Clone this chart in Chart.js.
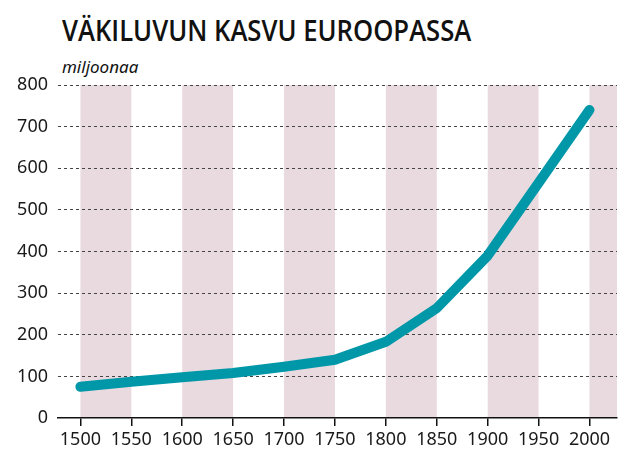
<!DOCTYPE html>
<html>
<head>
<meta charset="utf-8">
<script src="https://cdn.jsdelivr.net/npm/chart.js@4"></script>
<style>
  html, body { margin: 0; padding: 0; background: #fff; }
  #wrap { position: relative; width: 633px; height: 469px; }
  #title {
    position: absolute; left: 62px; top: 10px; white-space: nowrap;
    font-family: 'Open Sans', sans-serif;
    font-weight: 600; font-size: 29px; color: #111;
    transform: scaleX(0.885); transform-origin: left top;
  }
  #unit {
    position: absolute; left: 62px; top: 55px;
    font-family: 'Noto Sans', sans-serif; font-style: italic;
    font-size: 17px; color: #111;
  }
  canvas { position: absolute; left: 0; top: 0; }
</style>
</head>
<body>
<div id="wrap">
  <div id="title">VÄKILUVUN KASVU EUROOPASSA</div>
  <div id="unit">miljoonaa</div>
  <canvas id="chart" width="633" height="469"></canvas>
</div>
<script>
// population of Europe, millions
const years = [1500, 1550, 1600, 1650, 1700, 1750, 1800, 1850, 1900, 1950, 2000];
const population = [75, 87, 98, 108, 123, 140, 183, 264, 390, 565, 740];
const xTicks = [1500, 1550, 1600, 1650, 1700, 1750, 1800, 1850, 1900, 1950, 2000];
const yTicks = [0, 100, 200, 300, 400, 500, 600, 700, 800];
// shaded periods (start year of each 50-year band)
const bandStarts = [1500, 1600, 1700, 1800, 1900, 2000];
const bandLength = 50;

// bands go under the grid lines
const bandPlugin = {
  id: 'bands',
  beforeDraw(chart) {
    const { ctx, chartArea, scales } = chart;
    const x = scales.x;
    ctx.save();
    ctx.fillStyle = '#e9dadf';
    bandStarts.forEach(start => {
      const x0 = x.getPixelForValue(start);
      const x1 = Math.min(x.getPixelForValue(start + bandLength), chartArea.right);
      ctx.fillRect(x0, chartArea.top, x1 - x0, chartArea.bottom - chartArea.top);
    });
    ctx.restore();
  }
};

const tickFont = { family: "'Noto Sans', sans-serif", size: 18 };

new Chart(document.getElementById('chart'), {
  type: 'line',
  data: {
    datasets: [{
      data: years.map((y, i) => ({ x: y, y: population[i] })),
      borderColor: '#0098a8',
      borderWidth: 10,
      borderCapStyle: 'round',
      borderJoinStyle: 'round',
      pointRadius: 0,
      tension: 0
    }]
  },
  plugins: [bandPlugin],
  options: {
    responsive: false,
    animation: false,
    layout: { padding: { top: 85, right: 16, left: 0, bottom: 0 } },
    plugins: { legend: { display: false }, tooltip: { enabled: false } },
    scales: {
      x: {
        type: 'linear',
        min: 1478,
        max: 2027,
        afterBuildTicks: s => { s.ticks = xTicks.map(v => ({ value: v })); },
        afterFit: s => { s.height = 51; },
        grid: { drawOnChartArea: false, drawTicks: true, tickLength: 8, color: '#111', lineWidth: 1.5 },
        border: { display: true, color: '#111', width: 1.5 },
        ticks: {
          color: '#1a1a1a', font: tickFont, padding: 3, maxRotation: 0, autoSkip: false,
          callback: v => String(v)
        }
      },
      y: {
        min: 0,
        max: 800,
        afterBuildTicks: s => { s.ticks = yTicks.map(v => ({ value: v })); },
        afterFit: s => { s.width = 58; },
        grid: {
          drawTicks: false,
          color: c => c.tick && c.tick.value === 0 ? 'rgba(0,0,0,0)' : '#444',
          lineWidth: 1
        },
        border: { display: false, dash: [3, 3] },
        ticks: { color: '#1a1a1a', font: tickFont, padding: 10 }
      }
    }
  }
});
</script>
</body>
</html>
